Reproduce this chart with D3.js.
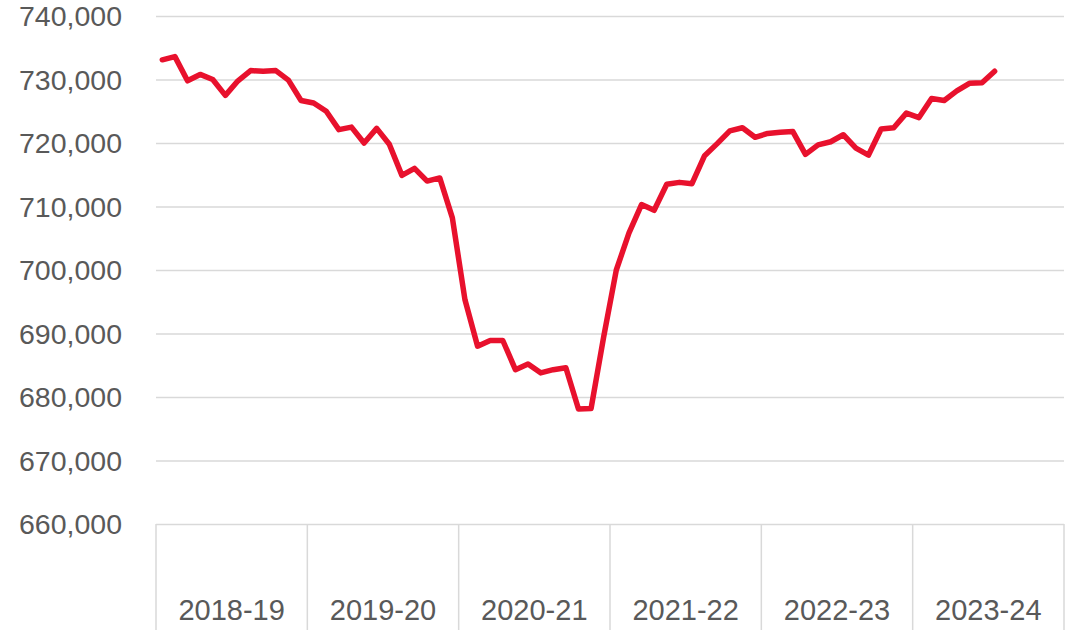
<!DOCTYPE html>
<html>
<head>
<meta charset="utf-8">
<script src="https://cdn.jsdelivr.net/npm/d3@7"></script>
<style>
  body { margin: 0; background: #fff; }
  .chart text { font-family: 'Liberation Sans', Arial, sans-serif; fill: #595959; }
  .grid line { stroke: #d9d9d9; stroke-width: 1.5; }
  .grid .domain { display: none; }
</style>
</head>
<body>
<svg class="chart" width="1068" height="630"></svg>
<script>
const years = ['2018-19', '2019-20', '2020-21', '2021-22', '2022-23', '2023-24'];
const yTicks = [660000, 670000, 680000, 690000, 700000, 710000, 720000, 730000, 740000];
// monthly values, April 2018 onwards
const values = [
  733100, 733600, 729800, 730800, 730000, 727500, 729800, 731400, 731300, 731400, 729900, 726700,
  726300, 725000, 722100, 722500, 720000, 722300, 719800, 714900, 716000, 714000, 714500, 708200,
  695300, 688000, 688900, 688900, 684300, 685200, 683800, 684300, 684600, 678100, 678200, 689500,
  700000, 705800, 710300, 709400, 713500, 713800, 713600, 718000, 719900, 721900, 722400, 720900,
  721500, 721700, 721800, 718200, 719700, 720200, 721300, 719200, 718100, 722200, 722400, 724700,
  724000, 727000, 726700, 728200, 729400, 729500, 731300,
];

const startApp = () => {
  const margin = { top: 16, left: 156, right: 4, bottom: 106 };
  const width = 1068 - margin.left - margin.right;
  const height = 630 - margin.top - margin.bottom;
  const monthsPerYear = 12;

  const svg = d3.select('.chart');
  const chart = svg.append('g')
    .attr('transform', `translate(${margin.left}, ${margin.top})`);

  const xBand = d3.scaleBand().domain(years).range([0, width]);
  const xScale = d3.scaleLinear()
    .domain([-0.5, years.length * monthsPerYear - 0.5])
    .range([0, width]);
  const yScale = d3.scaleLinear().domain([660000, 740000]).range([height, 0]);

  chart.append('g')
    .classed('grid', true)
    .call(d3.axisLeft(yScale).tickValues(yTicks).tickSize(-width).tickFormat(''));

  // category separators below the baseline
  const bounds = years.map((d) => xBand(d)).concat([width]);
  chart.selectAll('.sep')
    .data(bounds)
    .enter()
    .append('line')
    .attr('x1', (d) => d)
    .attr('x2', (d) => d)
    .attr('y1', height)
    .attr('y2', height + margin.bottom)
    .attr('stroke', '#d9d9d9')
    .attr('stroke-width', 1.5);

  chart.selectAll('.ylab')
    .data(yTicks)
    .enter()
    .append('text')
    .attr('x', -34)
    .attr('y', (d) => yScale(d))
    .attr('dy', '0.36em')
    .attr('text-anchor', 'end')
    .style('font-size', '28.5px')
    .text(d3.format(','));

  chart.selectAll('.xlab')
    .data(years)
    .enter()
    .append('text')
    .attr('x', (d) => xBand(d) + xBand.bandwidth() / 2)
    .attr('y', height + 96)
    .attr('text-anchor', 'middle')
    .style('font-size', '29px')
    .text((d) => d);

  const line = d3.line()
    .x((d, i) => xScale(i))
    .y((d) => yScale(d));

  chart.append('path')
    .datum(values)
    .attr('d', line)
    .attr('fill', 'none')
    .attr('stroke', '#e8112d')
    .attr('stroke-width', 5.5)
    .attr('stroke-linejoin', 'round')
    .attr('stroke-linecap', 'round');
};

window.onload = startApp;
</script>
</body>
</html>
